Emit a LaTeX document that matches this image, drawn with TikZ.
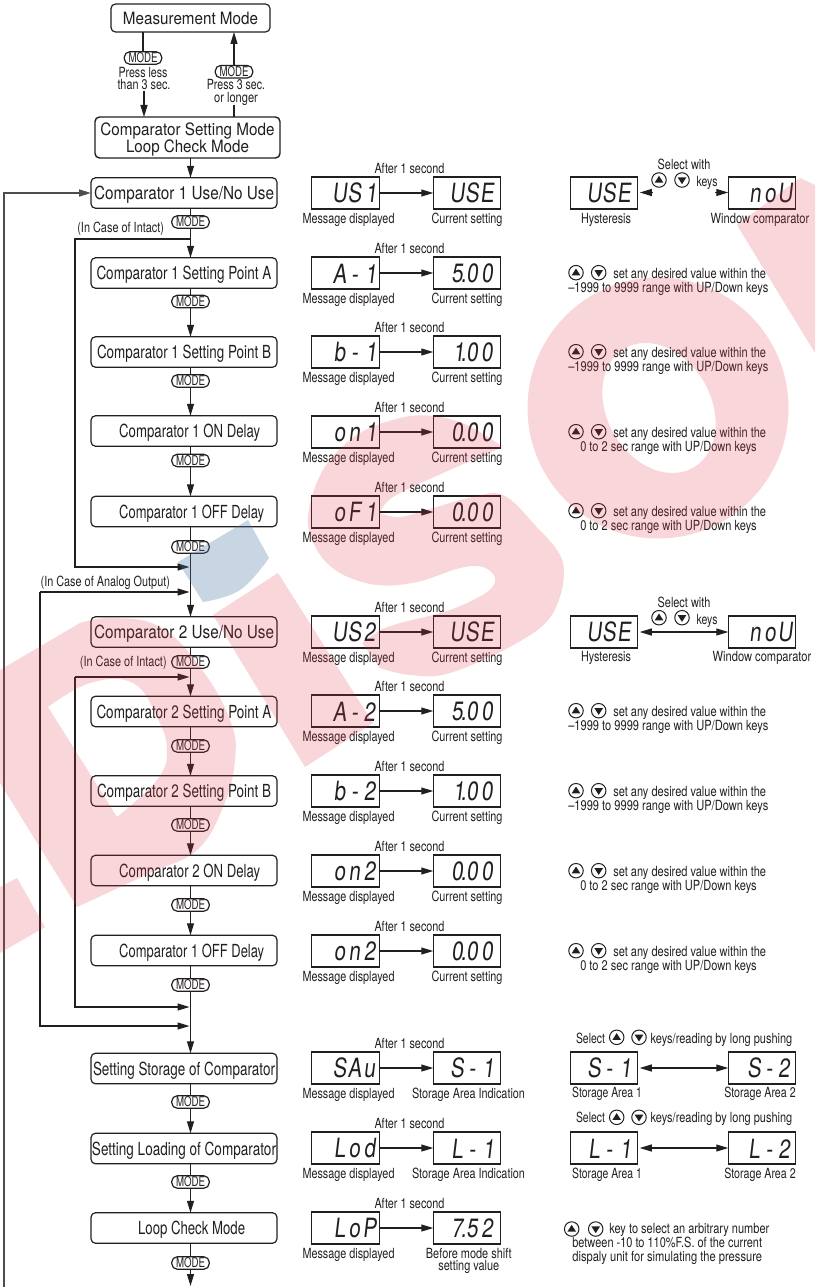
\documentclass[tikz,border=0pt]{standalone}
\usepackage{fontspec}
\usepackage{graphicx}
\setmainfont{TeX Gyre Heros}
\newfontfamily\lcdf[FakeSlant=0.12,FakeStretch=0.78]{TeX Gyre Heros}
\usetikzlibrary{arrows.meta,calc}
\definecolor{ink}{HTML}{231F20}
\definecolor{wmred}{RGB}{220,50,70}
\definecolor{wmblue}{RGB}{73,120,167}
\newcommand\fw[2]{\resizebox{#1pt}{\height}{#2}}
\newcommand\bt[2]{\rule[-4pt]{0pt}{21pt}\fw{#1}{#2}}
\newcommand\lc[1]{\makebox[15pt][c]{#1}}
\newcommand\lr[1]{\makebox[15pt][r]{#1}}
\tikzset{
  mainbox/.style={draw=ink,rounded corners=4.5pt,line width=1.2pt,minimum width=186pt,minimum height=30.5pt,inner sep=0pt,outer sep=0pt,text=ink,font=\fontsize{18}{18}\selectfont,align=center},
  pill/.style={draw=ink,fill=white,rounded corners=5.5pt,line width=1.2pt,minimum width=37.5pt,minimum height=12.5pt,inner sep=0pt,outer sep=0pt,text=ink,font=\fontsize{13.5}{13.5}\selectfont},
  small/.style={inner sep=0pt,outer sep=0pt,text=ink,font=\fontsize{14}{14}\selectfont},
  lcdbox/.style={draw=ink,line width=1.3pt,minimum width=67.5pt,minimum height=32pt,inner sep=0pt,outer sep=0pt,text=ink,font=\lcdf\fontsize{26.5}{27}\selectfont},
  conn/.style={draw=ink,line width=1.1pt},
  tip/.style={-{Triangle[length=12pt,width=7pt]}},
  dbl/.style={{Triangle[length=12pt,width=7pt]}-{Triangle[length=12pt,width=7pt]}},
  keyc/.style={circle,draw=ink,line width=1pt,minimum size=14.5pt,inner sep=0pt,outer sep=0pt},
}
\newcommand\lab[5]{\node[small,anchor=base] (#1) at (#2,{#3+4.5}) {\fw{#4}{#5}};}
\newcommand\lcd[5]{\node[lcdbox] (#1) at (#2,{#3+16}) {\makebox[66pt][r]{\rule{0pt}{20pt}#5\hspace*{#4pt}}};}
\newcommand\link[3]{\draw[conn] (#2.north |- #1.south) -- (#2.north); \draw[conn,tip] (#2.south) -- (#2.south |- #3.north);}
\newcommand\modepill[3]{\node[pill] (#1) at (#2,#3) {\fw{29}{MODE}};}
% row of middle column: id, top, left chars, right chars, right-label centre, right-label width
\newcommand\rowd[6]{%
  \lab{#1t}{409.5}{#2-8.5}{70}{After 1 second}
  \lcd{#1l}{345.5}{#2}{1.5}{#3}
  \lcd{#1r}{467}{#2}{5.5}{#4}
  \draw[conn,tip] (#1l.east) -- (#1r.west);
  \lab{#1m}{348.5}{#2+42}{92}{Message displayed}
  \lab{#1c}{#5}{#2+42}{#6}{\ifdim#6pt=113pt Storage Area Indication\else\ifdim#6pt=85.7pt Before mode shift\else Current setting\fi\fi}
}
\newcommand\keypair[5]{% id, x1, x2, y (both keys)
  \node[keyc] (#1u) at (#2,#4) {};
  \node[keyc] (#1d) at (#3,#4) {};
  \fill[ink,shift={(#2,#4)}] (-4.3,2.6) -- (4.3,2.6) -- (0,-4.2) -- cycle;
  \fill[ink,shift={(#3,#4)}] (-4.3,-2.6) -- (4.3,-2.6) -- (0,4.2) -- cycle;
}
\newcommand\setval[3]{% id, top, second line selector
  \keypair{#1}{576}{598.7}{#2+15.7}{}
  \lab{#1a}{689.7}{#2+17}{152.7}{set any desired value within the}
  \ifnum#3=1 \lab{#1b}{668.3}{#2+30.7}{200}{--1999 to 9999 range with UP/Down keys}
  \else \lab{#1b}{668.5}{#2+30.7}{176.4}{0 to 2 sec range with UP/Down keys}\fi
}
\begin{document}
\begin{tikzpicture}[x=1pt,y=-1pt]
\useasboundingbox (0,0) rectangle (815,1287);
\fill[white] (0,0) rectangle (815,1287);
% --- left column
\node[mainbox,minimum width=159pt,minimum height=28pt,font=\fontsize{17}{18}\selectfont] (mm) at (190.5,18) {\fw{135}{Measurement Mode}};
\node[mainbox,line width=1.4pt,minimum width=185pt,minimum height=41pt,font=\fontsize{17}{17}\selectfont] (cs) at (187.5,137.5) {\rule{0pt}{17pt}\fw{174}{Comparator Setting Mode}\\\fw{123}{Loop Check Mode}};
\node[mainbox] (c1) at (184,193) {\bt{180}{Comparator 1 Use/No Use}};
\node[mainbox] (a1) at (184,273) {\bt{175}{Comparator 1 Setting Point A}};
\node[mainbox] (b1) at (184,352) {\bt{174}{Comparator 1 Setting Point B}};
\node[mainbox] (on1) at (184,431) {\hspace*{11.4pt}\bt{141}{Comparator 1 ON Delay}};
\node[mainbox] (off1) at (184,511.5) {\hspace*{15.4pt}\bt{145}{Comparator 1 OFF Delay}};
\node[mainbox] (c2) at (184,632) {\bt{180}{Comparator 2 Use/No Use}};
\node[mainbox] (a2) at (184,711.5) {\bt{175}{Comparator 2 Setting Point A}};
\node[mainbox] (b2) at (184,791) {\bt{174}{Comparator 2 Setting Point B}};
\node[mainbox] (on2) at (184,870.5) {\hspace*{11.4pt}\bt{141}{Comparator 2 ON Delay}};
\node[mainbox] (off2) at (184,950.5) {\hspace*{15.4pt}\bt{145}{Comparator 1 OFF Delay}};
\node[mainbox] (sav) at (184,1068.5) {\bt{182}{Setting Storage of Comparator}};
\node[mainbox] (lod) at (184,1148.5) {\bt{184}{Setting Loading of Comparator}};
\node[mainbox] (loop) at (184,1228) {\hspace*{15.2pt}\bt{107}{Loop Check Mode}};
% pills
\modepill{ml}{143}{58}
\modepill{mr}{234}{71.7}
\modepill{m1}{190.5}{222}
\modepill{m2}{190.5}{301.5}
\modepill{m3}{190.5}{381}
\modepill{m4}{190.5}{460.5}
\modepill{m5}{190.5}{547}
\modepill{m6}{190.5}{662}
\modepill{m7}{190.5}{746}
\modepill{m8}{190.5}{825}
\modepill{m9}{190.5}{905}
\modepill{m10}{190.5}{985}
\modepill{m11}{190.5}{1102}
\modepill{m12}{190.5}{1182}
\modepill{m13}{190.5}{1263}
% top labels
\lab{tl1}{143}{73}{49}{Press less}
\lab{tl2}{144}{85}{53}{than 3 sec.}
\lab{tr1}{236}{85}{58.3}{Press 3 sec.}
\lab{tr2}{236}{98}{43.7}{or longer}
\coordinate (la) at (144,91);
\coordinate (ra) at (234,105);
\draw[conn] (ml.north |- mm.south) -- (ml.north);
\draw[conn,tip] (la) -- (la |- cs.north);
\draw[conn] (ra |- cs.north) -- (ra);
\draw[conn,tip] (mr.north) -- (mr.north |- mm.south);
\draw[conn,tip] (m1.north |- cs.south) -- (m1.north |- c1.north);
% chain
\link{c1}{m1}{a1}
\link{a1}{m2}{b1}
\link{b1}{m3}{on1}
\link{on1}{m4}{off1}
\link{off1}{m5}{c2}
\link{c2}{m6}{a2}
\link{a2}{m7}{b2}
\link{b2}{m8}{on2}
\link{on2}{m9}{off2}
\link{off2}{m10}{sav}
\link{sav}{m11}{lod}
\link{lod}{m12}{loop}
\coordinate (endc) at (190.5,1286);
\draw[conn] (m13.north |- loop.south) -- (m13.north);
\draw[conn,tip] (m13.south) -- (endc);
% branch labels
\lab{ci1}{120.7}{227.5}{86.7}{(In Case of Intact)}
\lab{ci2}{123.3}{661.7}{86.7}{(In Case of Intact)}
\lab{ca}{105.3}{581.7}{129.3}{(In Case of Analog Output)}
% feedback lines
\coordinate (j1) at (190.5,239);
\coordinate (j1b) at (75,239);
\coordinate (j2b) at (75,567);
\coordinate (j2) at (189.5,567);
\draw[conn,tip] (j1) -- (j1b) -- (j2b) -- (j2);
\coordinate (k1b) at (40,592);
\coordinate (k1) at (189.5,592);
\coordinate (k2b) at (40,1026);
\coordinate (k2) at (189.5,1026);
\draw[conn,tip] (k1b) -- (k1);
\draw[conn,tip] (k1b) -- (k2b) -- (k2);
\coordinate (n1b) at (75,677);
\coordinate (n1) at (189.5,677);
\coordinate (n2b) at (75,1007);
\coordinate (n2) at (189.5,1007);
\draw[conn,tip] (n1b) -- (n1);
\draw[conn,tip] (n1b) -- (n2b) -- (n2);
\coordinate (fb0) at (4,1287);
\coordinate (fb1) at (4,193);
\draw[conn,draw=ink!80,line width=1.6pt,tip] (fb0) -- (fb1) -- (c1.west);
% --- middle column
\rowd{r1}{177}{\lc{U}\lc{S}\lr{1}}{\lc{U}\lc{S}\lc{E}}{467}{71}
\rowd{r2}{257}{\lc{A}\lc{-}\lr{1}}{\lc{5}\lc{\llap{.}0}\lc{0}}{467}{71}
\rowd{r3}{336}{\lc{b}\lc{-}\lr{1}}{\lr{1}\lc{\llap{.}0}\lc{0}}{467}{71}
\rowd{r4}{416}{\lc{o}\lc{n}\lr{1}}{\lc{0}\lc{\llap{.}0}\lc{0}}{467}{71}
\rowd{r5}{496}{\lc{o}\lc{F}\lr{1}}{\lc{0}\lc{\llap{.}0}\lc{0}}{467}{71}
\rowd{r6}{616}{\lc{U}\lc{S}\lc{2}}{\lc{U}\lc{S}\lc{E}}{467}{71}
\rowd{r7}{695}{\lc{A}\lc{-}\lc{2}}{\lc{5}\lc{\llap{.}0}\lc{0}}{467}{71}
\rowd{r8}{775}{\lc{b}\lc{-}\lc{2}}{\lr{1}\lc{\llap{.}0}\lc{0}}{467}{71}
\rowd{r9}{855}{\lc{o}\lc{n}\lc{2}}{\lc{0}\lc{\llap{.}0}\lc{0}}{467}{71}
\rowd{r10}{935}{\lc{o}\lc{n}\lc{2}}{\lc{0}\lc{\llap{.}0}\lc{0}}{467}{71}
\rowd{r11}{1052}{\lc{S}\lc{A}\lc{u}}{\lc{S}\lc{-}\lr{1}}{468.5}{113}
\rowd{r12}{1132}{\lc{L}\lc{o}\lc{d}}{\lc{L}\lc{-}\lr{1}}{468.5}{113}
\rowd{r13}{1212}{\lc{L}\lc{o}\lc{P}}{\lc{7}\lc{\llap{.}5}\lc{2}}{468.8}{85.7}
\lab{r13c2}{468.8}{1266}{61}{setting value}
% --- right column
\lcd{h1}{604}{177}{5.5}{\lc{U}\lc{S}\lc{E}}
\lcd{w1}{762}{177}{2.5}{\lc{n}\lc{o}\lc{U}}
\lab{h1t}{606}{219}{50}{Hysteresis}
\lab{w1t}{760}{219}{98.6}{Window comparator}
\lab{s1t}{684}{164.7}{52.7}{Select with}
\keypair{k1}{659}{682}{180}{}
\lab{k1k}{707}{181.7}{21}{keys}
\coordinate (h1a) at (653,192.5);
\coordinate (w1a) at (715,192.5);
\draw[conn,tip,shorten >=2pt] (h1a) -- (h1a -| h1.east);
\draw[conn,tip] (w1a) -- (w1a -| w1.west);
\setval{v2}{257}{1}
\setval{v3}{336}{1}
\setval{v4}{416}{2}
\setval{v5}{495}{2}
\lcd{h2}{604}{616}{5.5}{\lc{U}\lc{S}\lc{E}}
\lcd{w2}{762}{616}{2.5}{\lc{n}\lc{o}\lc{U}}
\lab{h2t}{606}{657}{50}{Hysteresis}
\lab{w2t}{762}{657}{98.6}{Window comparator}
\lab{s2t}{684}{602.7}{52.7}{Select with}
\keypair{k2}{659}{682}{617.7}{}
\lab{k2k}{707}{620}{21}{keys}
\draw[conn,dbl,shorten <=2pt] (h2.east) -- (w2.west);
\setval{v7}{695}{1}
\setval{v8}{775}{1}
\setval{v9}{855}{2}
\setval{v10}{935}{2}
% storage rows
\lab{s3a}{590.5}{1039}{29}{Select}
\keypair{k3}{616.7}{639}{1037.3}{}
\lab{s3b}{721.5}{1039}{141.7}{keys/reading by long pushing}
\lcd{a3}{604}{1052}{5.5}{\lc{S}\lc{-}\lr{1}}
\lcd{b3}{762}{1052}{3.5}{\lc{S}\lc{-}\lc{2}}
\draw[conn,dbl,shorten <=2pt] (a3.east) -- (b3.west);
\lab{a3t}{607}{1093}{69.7}{Storage Area 1}
\lab{b3t}{760}{1093}{71.4}{Storage Area 2}
\lab{s4a}{590.5}{1118.3}{29}{Select}
\keypair{k4}{616.7}{639}{1117.3}{}
\lab{s4b}{721.5}{1118.3}{141.7}{keys/reading by long pushing}
\lcd{a4}{604}{1132}{5.5}{\lc{L}\lc{-}\lr{1}}
\lcd{b4}{762}{1132}{3.5}{\lc{L}\lc{-}\lc{2}}
\draw[conn,dbl,shorten <=2pt] (a4.east) -- (b4.west);
\lab{a4t}{607}{1173.7}{69.7}{Storage Area 1}
\lab{b4t}{760}{1173.7}{71.4}{Storage Area 2}
\keypair{k5}{571.7}{595.7}{1229}{}
\lab{l1}{689.3}{1229}{160}{key to select an arbitrary number}
\lab{l2}{667.2}{1242.7}{189.7}{between -10 to 110\%F.S. of the current}
\lab{l3}{667.2}{1256.7}{189.7}{dispaly unit for simulating the pressure}
% --- watermark, laid over everything as in the reference
\begin{scope}
\clip (0,0) rectangle (815,1287);
\begin{scope}[fill opacity=0.2]
% dot
\fill[wmred] (0,887) -- (17,878) -- (45,927) -- (0,953) -- cycle;
% D
\fill[wmred,even odd rule] (0,783) -- (0,670)
  -- plot[smooth,tension=.7] coordinates {(80,623) (113,618) (160,627) (200,667) (230,720) (235,760) (223,807) (197,850) (150,873) (77,907)}
  -- cycle
  plot[smooth,tension=.7] coordinates {(48,707) (90,683) (133,683) (157,717) (167,750) (157,780) (117,817)} -- cycle;
% I
\fill[wmred] (213,615) -- (278,573) -- (373,723) -- (305,767) -- cycle;
% S
\fill[wmred] plot[smooth,tension=.6] coordinates {(503,447) (467,425) (433,416) (400,418) (357,435) (323,470) (308,517) (317,550) (340,573) (377,585) (417,582) (460,568) (483,567) (495,578) (487,592) (450,610) (400,623) (380,630)}
  -- (362,643) -- (380,668)
  -- plot[smooth,tension=.6] coordinates {(380,668) (410,675) (450,673) (517,643) (553,613) (563,563) (533,523) (503,495) (473,497) (433,508) (400,517) (380,513)}
  -- plot[smooth,tension=.6] coordinates {(380,513) (393,497) (443,473) (503,447)} -- cycle;
% O
\fill[wmred,even odd rule] (658,408) circle [radius=130.5]
  plot[domain=0:360,samples=72,smooth] ({659+68.8*cos(\x)*.5-52*sin(\x)*.866},{408+68.8*cos(\x)*.866+52*sin(\x)*.5}) -- cycle;
% V
\fill[wmred] (737,225) -- (800,178) -- (815,185) -- (815,353) -- cycle;
\end{scope}
% blue piece
\begin{scope}[fill opacity=0.3]
\fill[wmblue] (178,562) -- (248,520) -- (269,558)
  -- plot[smooth,tension=.7] coordinates {(269,558) (240,590) (203,602)} -- cycle;
\end{scope}
\end{scope}
\end{tikzpicture}
\end{document}
